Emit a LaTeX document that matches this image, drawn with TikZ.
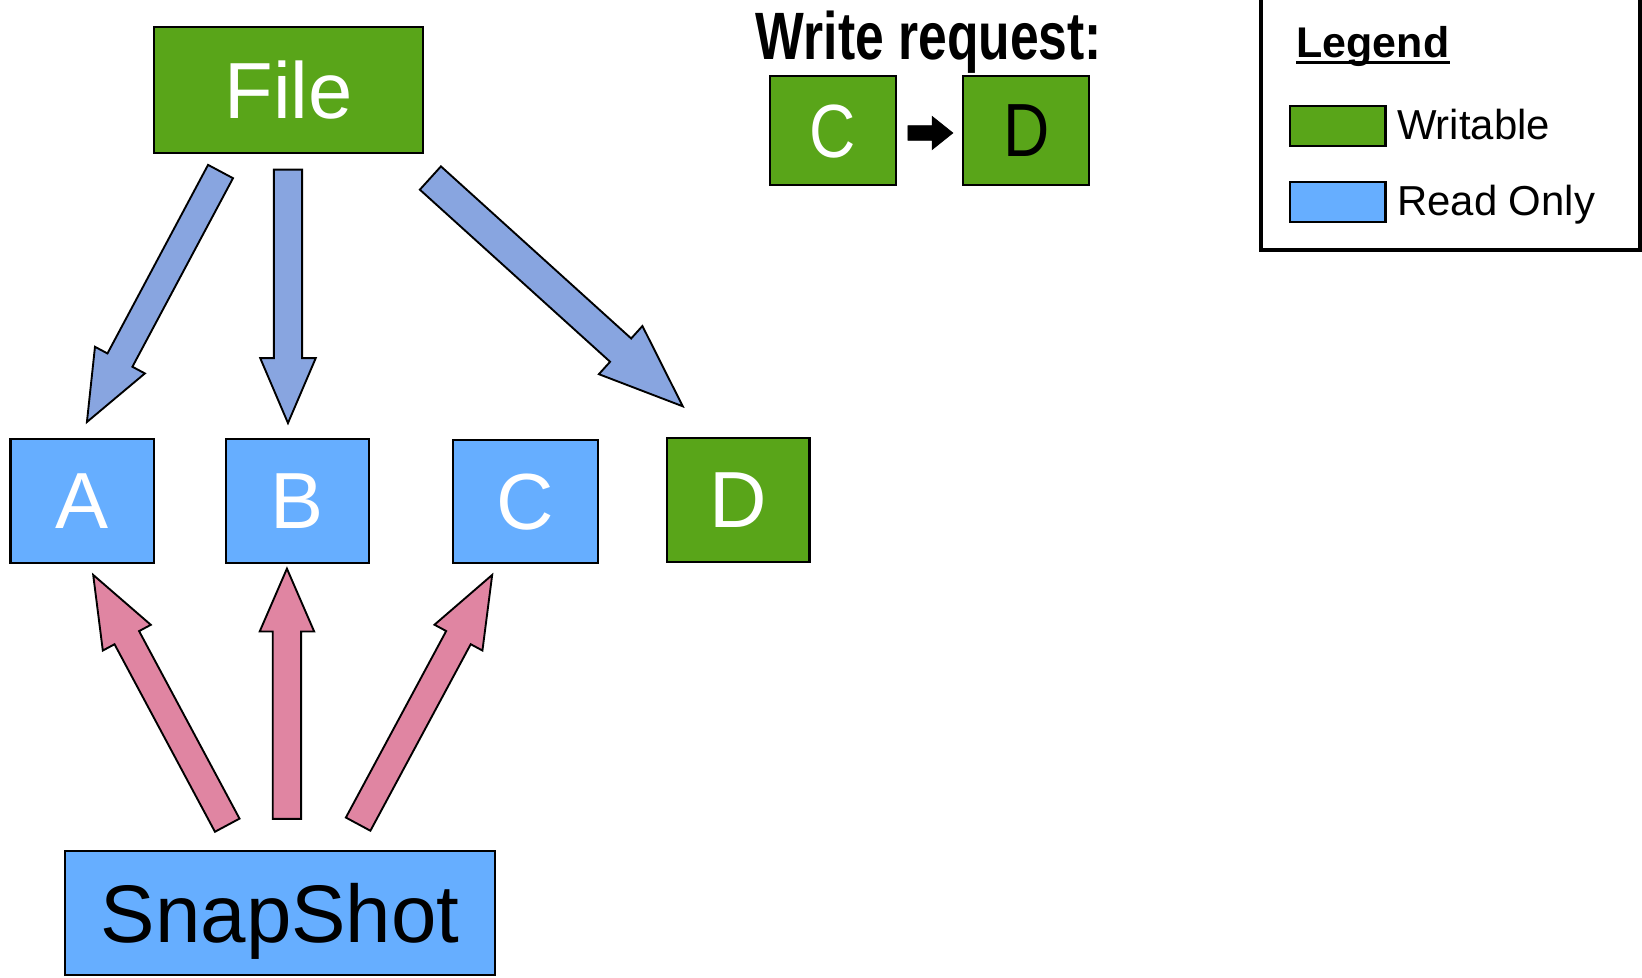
\documentclass[tikz,border=0pt]{standalone}
\usepackage{fontspec}
\setmainfont{Liberation Sans}
\usepackage{graphicx}
\usetikzlibrary{calc}
\definecolor{wgreen}{RGB}{89,165,25}
\definecolor{rblue}{RGB}{102,174,255}
\definecolor{ablue}{RGB}{136,165,224}
\definecolor{apink}{RGB}{224,133,162}
\newcommand{\fatarrow}[6]{%
  \coordinate (fa-b) at ($(#2)!#6!(#1)$);
  \draw[#3] ($(#1)!#4!90:(#2)$) -- ($(fa-b)!#4!90:(#2)$) -- ($(fa-b)!#5!90:(#2)$) -- (#2)
    -- ($(fa-b)!#5!-90:(#2)$) -- ($(fa-b)!#4!-90:(#2)$) -- ($(#1)!#4!-90:(#2)$) -- cycle;
}
\tikzset{
  box/.style={draw=black, line width=2pt, inner sep=0pt, text depth=0pt},
  gbox/.style={box, fill=wgreen},
  bbox/.style={box, fill=rblue},
  big/.style={font=\fontsize{76}{80}\selectfont},
  barrow/.style={draw=black, line width=1.8pt, fill=ablue, line join=miter},
  parrow/.style={draw=black, line width=1.8pt, fill=apink, line join=miter},
  karrow/.style={draw=black, line width=0.5pt, fill=black, line join=miter},
  legtext/.style={anchor=base west, inner sep=0pt, font=\fontsize{40}{44}\selectfont},
}
\begin{document}
\begin{tikzpicture}[x=1pt,y=-1pt]
\useasboundingbox (0,0) rectangle (1568,933);
\clip (0,0) rectangle (1568,933);
% main nodes
\node[gbox, big, text=white, minimum width=257pt, minimum height=120pt] (file) at (275.5,86) {File};
\node[bbox, big, text=white, minimum width=137pt, minimum height=119pt] (A) at (78.5,478.5) {A};
\node[bbox, big, text=white, minimum width=136pt, minimum height=119pt] (B) at (284,478.5) {B};
\node[bbox, big, text=white, minimum width=138pt, minimum height=118pt] (C) at (502,479) {C};
\node[gbox, big, text=white, minimum width=136pt, minimum height=119pt] (D) at (705,477.5) {D};
\node[bbox, font=\fontsize{78}{82}\selectfont, text=black, minimum width=411pt, minimum height=118pt] (snap) at (267.5,872) {SnapShot};
% write request
\node[anchor=base, inner sep=0pt, font=\bfseries\fontsize{64}{70}\selectfont] (wr) at (887,57) {\scalebox{0.77}[1]{Write request:}};
\node[gbox, font=\fontsize{72}{76}\selectfont, text=white, minimum width=121pt, minimum height=104pt] (sc) at (795.5,125) {\scalebox{0.85}[1]{C}};
\node[gbox, font=\fontsize{72}{76}\selectfont, text=black, minimum width=120pt, minimum height=104pt] (sd) at (980,125) {\scalebox{0.85}[1]{D}};
\coordinate (k1) at ($(sc.east)+(10,2)$);
\coordinate (k2) at ($(sd.west)+(-9,2)$);
\fatarrow{k1}{k2}{karrow}{7pt}{16pt}{20pt}
% legend
\draw[line width=4pt] (1204,-10) -- (1204,239) -- (1566,239) -- (1566,-10);
\node[anchor=base west, inner sep=0pt, font=\bfseries\fontsize{41}{45}\selectfont] (leg) at (1238,55) {Legend};
\draw[line width=3pt] ($(leg.base west)+(0,5)$) -- ($(leg.base east)+(0,5)$);
\node[gbox, minimum width=91pt, minimum height=38pt] (lg) at (1277.5,120) {};
\node[bbox, minimum width=91pt, minimum height=38pt] (lb) at (1277.5,193) {};
\node[legtext] (lgt) at (1334,133) {Writable};
\node[legtext] (lbt) at (1334,206) {Read Only};
% blue arrows from File
\coordinate (b1t) at (210.6,163.8);
\coordinate (b1h) at (83,403);
\coordinate (b2t) at (275,162);
\coordinate (b2h) at (275,404);
\coordinate (b3t) at (411,170);
\coordinate (b3h) at (652,388);
\fatarrow{b1t}{b1h}{barrow}{13.5pt}{27pt}{67pt}
\fatarrow{b2t}{b2h}{barrow}{13.5pt}{26.5pt}{62pt}
\fatarrow{b3t}{b3h}{barrow}{15pt}{31pt}{80pt}
% pink arrows from SnapShot
\coordinate (p1t) at (217,788);
\coordinate (p1h) at (89,549);
\coordinate (p2t) at (274,782);
\coordinate (p2h) at (274,543);
\coordinate (p3t) at (342,787);
\coordinate (p3h) at (470,549);
\fatarrow{p1t}{p1h}{parrow}{13.3pt}{26pt}{68pt}
\fatarrow{p2t}{p2h}{parrow}{13.5pt}{26pt}{60pt}
\fatarrow{p3t}{p3h}{parrow}{13.3pt}{26pt}{68pt}
\end{tikzpicture}
\end{document}
